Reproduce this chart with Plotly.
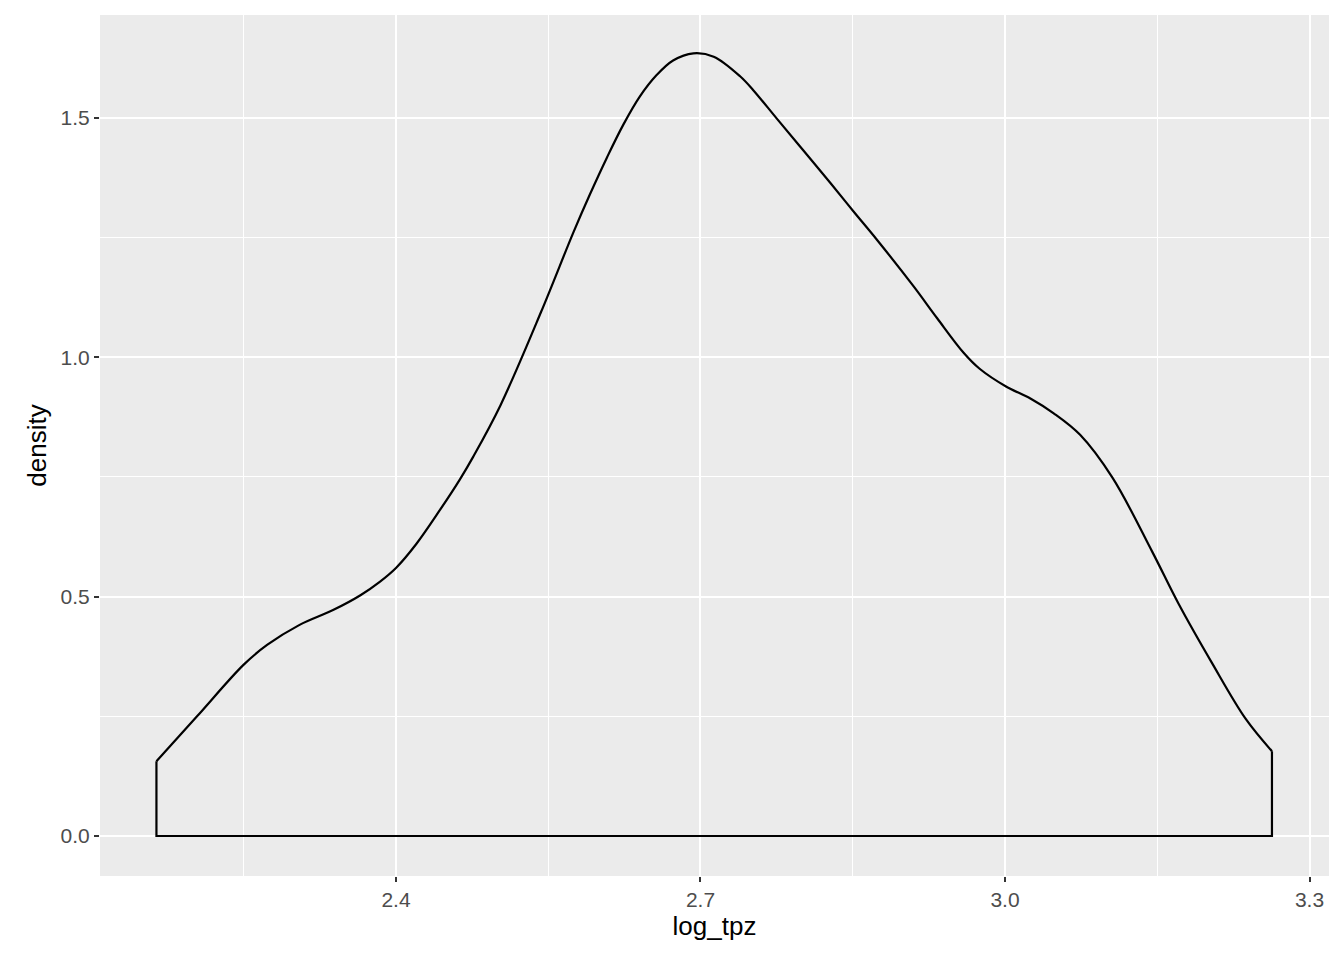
import plotly.graph_objects as go

# density curve (log_tpz vs density)
log_tpz = [2.164, 2.204, 2.250, 2.273, 2.305, 2.338, 2.365, 2.384, 2.400, 2.420,
           2.443, 2.463, 2.476, 2.503, 2.543, 2.575, 2.591, 2.608, 2.624, 2.640,
           2.657, 2.673, 2.693, 2.713, 2.739, 2.752, 2.775, 2.801, 2.828, 2.851,
           2.874, 2.910, 2.933, 2.959, 2.975, 3.001, 3.025, 3.048, 3.074, 3.106,
           3.145, 3.171, 3.204, 3.237, 3.263]
density = [0.156, 0.250, 0.358, 0.399, 0.441, 0.472, 0.503, 0.531, 0.560, 0.610,
           0.680, 0.745, 0.792, 0.900, 1.095, 1.262, 1.340, 1.418, 1.486, 1.544,
           1.590, 1.620, 1.635, 1.628, 1.587, 1.558, 1.499, 1.433, 1.364, 1.304,
           1.245, 1.148, 1.082, 1.010, 0.976, 0.939, 0.914, 0.883, 0.838, 0.748,
           0.594, 0.485, 0.361, 0.245, 0.177]

x_ticks = [2.4, 2.7, 3.0, 3.3]
y_ticks = [0.0, 0.5, 1.0, 1.5]

FONT = "Liberation Sans, Arial, sans-serif"

fig = go.Figure()
# outline: left edge, baseline, right edge
fig.add_trace(go.Scatter(
    x=[log_tpz[0], log_tpz[0], log_tpz[-1], log_tpz[-1]],
    y=[density[0], 0, 0, density[-1]],
    mode="lines", line=dict(color="black", width=2.2), hoverinfo="skip",
))
fig.add_trace(go.Scatter(
    x=log_tpz, y=density, mode="lines",
    line=dict(color="black", width=2.2, shape="spline", smoothing=1),
))

axis_common = dict(
    showgrid=True, gridcolor="white", gridwidth=2, zeroline=False,
    ticks="outside", ticklen=5, tickwidth=2, tickcolor="#333333",
    tickfont=dict(family=FONT, size=21, color="#4D4D4D"),
    showline=False, automargin=False,
)

# page body adds an 8px offset, so the figure is 8px smaller than the window
fig.update_layout(
    width=1336, height=952,
    paper_bgcolor="white", plot_bgcolor="#EBEBEB",
    margin=dict(l=92, r=15, t=7, b=84),
    showlegend=False,
    font=dict(family=FONT, color="black"),
    xaxis=dict(
        range=[2.1084, 3.3192], tickvals=x_ticks, ticktext=[f"{v:.1f}" for v in x_ticks],
        minor=dict(tickvals=[2.25, 2.55, 2.85, 3.15], showgrid=True, gridcolor="white",
                   gridwidth=1, ticks=""),
        title=dict(text="log_tpz", font=dict(size=26), standoff=4),
        **axis_common,
    ),
    yaxis=dict(
        range=[-0.0836, 1.715], tickvals=y_ticks, ticktext=[f"{v:.1f}" for v in y_ticks],
        minor=dict(tickvals=[0.25, 0.75, 1.25], showgrid=True, gridcolor="white",
                   gridwidth=1, ticks=""),
        title=dict(text="density", font=dict(size=26), standoff=6),
        **axis_common,
    ),
)

fig.write_html("out.html")
